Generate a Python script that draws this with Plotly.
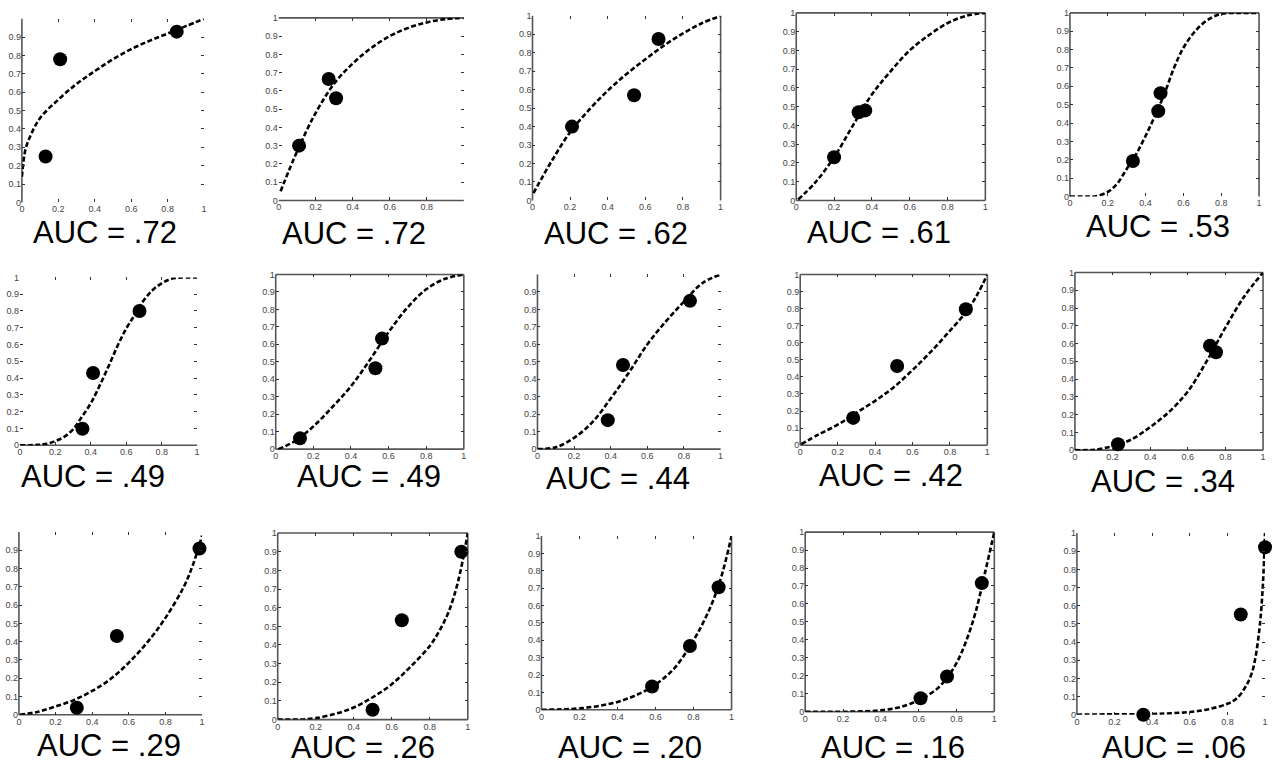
import plotly.graph_objects as go

# ---------------- data ----------------
auc_labels = [".72", ".72", ".62", ".61", ".53",
              ".49", ".49", ".44", ".42", ".34",
              ".29", ".26", ".20", ".16", ".06"]

point_x = [
    [0.13, 0.21, 0.85],
    [0.11, 0.27, 0.31],
    [0.21, 0.54, 0.67],
    [0.20, 0.33, 0.365],
    [0.333, 0.467, 0.479],
    [0.353, 0.413, 0.675],
    [0.129, 0.53, 0.565],
    [0.384, 0.467, 0.833],
    [0.283, 0.518, 0.885],
    [0.229, 0.718, 0.75],
    [0.316, 0.535, 0.986],
    [0.499, 0.653, 0.966],
    [0.582, 0.781, 0.932],
    [0.61, 0.75, 0.934],
    [0.353, 0.871, 1.0],
]
point_y = [
    [0.25, 0.78, 0.93],
    [0.30, 0.665, 0.56],
    [0.40, 0.57, 0.875],
    [0.23, 0.47, 0.48],
    [0.193, 0.465, 0.563],
    [0.098, 0.43, 0.80],
    [0.062, 0.463, 0.633],
    [0.166, 0.482, 0.849],
    [0.16, 0.464, 0.796],
    [0.033, 0.588, 0.551],
    [0.038, 0.431, 0.91],
    [0.053, 0.533, 0.90],
    [0.134, 0.367, 0.705],
    [0.075, 0.196, 0.716],
    [0.0, 0.552, 0.922],
]

curve_x = [
    [0.0, 0.02, 0.05, 0.1, 0.2, 0.3, 0.4, 0.5, 0.6, 0.7, 0.8, 0.9, 1.0],
    [0.01, 0.1, 0.2, 0.3, 0.4, 0.5, 0.6, 0.7, 0.8, 0.9, 1.0],
    [0.005, 0.1, 0.2, 0.3, 0.4, 0.5, 0.6, 0.7, 0.8, 0.9, 1.0],
    [0.01, 0.1, 0.2, 0.3, 0.4, 0.5, 0.6, 0.7, 0.8, 0.9, 1.0],
    [0.0, 0.05, 0.1, 0.13, 0.2, 0.25, 0.3, 0.35, 0.4, 0.45, 0.5, 0.55, 0.6, 0.65, 0.7, 0.75, 0.8, 0.85, 0.9, 1.0],
    [0.0, 0.1, 0.15, 0.2, 0.25, 0.3, 0.35, 0.4, 0.45, 0.5, 0.55, 0.6, 0.65, 0.7, 0.75, 0.8, 0.85, 0.9, 1.0],
    [0.014, 0.1, 0.2, 0.3, 0.4, 0.5, 0.6, 0.7, 0.8, 0.9, 1.0],
    [0.0, 0.1, 0.2, 0.3, 0.4, 0.5, 0.6, 0.7, 0.8, 0.9, 1.0],
    [0.005, 0.1, 0.2, 0.3, 0.4, 0.5, 0.6, 0.7, 0.8, 0.9, 0.95, 1.0],
    [0.0, 0.1, 0.2, 0.3, 0.4, 0.5, 0.6, 0.7, 0.8, 0.9, 1.0],
    [0.005, 0.1, 0.2, 0.3, 0.4, 0.5, 0.6, 0.7, 0.8, 0.9, 0.95, 1.0],
    [0.0, 0.1, 0.15, 0.2, 0.3, 0.4, 0.5, 0.6, 0.7, 0.8, 0.85, 0.9, 0.95, 1.0],
    [0.0, 0.1, 0.2, 0.3, 0.4, 0.5, 0.6, 0.7, 0.8, 0.85, 0.9, 0.95, 1.0],
    [0.0, 0.1, 0.2, 0.3, 0.4, 0.5, 0.6, 0.7, 0.75, 0.8, 0.85, 0.9, 0.95, 1.0],
    [0.0, 0.2, 0.4, 0.5, 0.6, 0.7, 0.8, 0.85, 0.9, 0.93, 0.95, 0.97, 0.98, 0.99, 1.0],
]
curve_y = [
    [0.14, 0.29, 0.37, 0.46, 0.56, 0.645, 0.715, 0.78, 0.835, 0.88, 0.92, 0.96, 1.0],
    [0.05, 0.27, 0.48, 0.64, 0.75, 0.835, 0.90, 0.945, 0.975, 0.993, 1.0],
    [0.04, 0.21, 0.37, 0.49, 0.595, 0.685, 0.765, 0.84, 0.905, 0.96, 1.0],
    [0.005, 0.095, 0.23, 0.40, 0.565, 0.69, 0.80, 0.88, 0.945, 0.985, 1.0],
    [0.0, 0.0, 0.0, 0.0, 0.025, 0.07, 0.15, 0.23, 0.33, 0.44, 0.56, 0.70, 0.81, 0.885, 0.94, 0.975, 0.995, 1.0, 1.0, 1.0],
    [0.0, 0.002, 0.008, 0.025, 0.05, 0.095, 0.17, 0.25, 0.355, 0.47, 0.59, 0.695, 0.78, 0.865, 0.925, 0.965, 0.99, 0.998, 1.0],
    [0.0, 0.045, 0.13, 0.24, 0.36, 0.51, 0.67, 0.81, 0.915, 0.975, 1.0],
    [0.0, 0.011, 0.065, 0.155, 0.29, 0.44, 0.60, 0.73, 0.845, 0.95, 1.0],
    [0.006, 0.064, 0.12, 0.19, 0.26, 0.34, 0.44, 0.55, 0.67, 0.80, 0.89, 1.0],
    [0.0, 0.002, 0.022, 0.06, 0.13, 0.215, 0.33, 0.50, 0.69, 0.865, 1.0],
    [0.0, 0.015, 0.045, 0.08, 0.13, 0.195, 0.285, 0.395, 0.53, 0.70, 0.82, 0.98],
    [0.0, 0.0, 0.002, 0.008, 0.03, 0.065, 0.12, 0.19, 0.285, 0.395, 0.475, 0.58, 0.745, 1.0],
    [0.0, 0.002, 0.008, 0.022, 0.045, 0.085, 0.145, 0.24, 0.40, 0.50, 0.62, 0.78, 1.0],
    [0.0, 0.0, 0.0, 0.002, 0.008, 0.025, 0.065, 0.13, 0.19, 0.27, 0.39, 0.55, 0.77, 1.0],
    [0.0, 0.002, 0.004, 0.008, 0.015, 0.03, 0.06, 0.09, 0.16, 0.23, 0.32, 0.47, 0.58, 0.74, 1.0],
]

x_tick_vals = [0, 0.2, 0.4, 0.6, 0.8, 1]
x_tick_text = ["0", "0.2", "0.4", "0.6", "0.8", "1"]
y_tick_vals = [0, 0.1, 0.2, 0.3, 0.4, 0.5, 0.6, 0.7, 0.8, 0.9, 1]
y_tick_text = ["0", "0.1", "0.2", "0.3", "0.4", "0.5", "0.6", "0.7", "0.8", "0.9", "1"]

# ---------------- layout (pixel geometry) ----------------
W, H = 1273, 772
# plot-area boxes in pixels: x_left, x_right, y_top, y_bottom
boxes = [
    (19, 202, 14, 200), (277, 463, 13, 198), (532, 721, 11, 198), (797, 987, 8, 198), (1072, 1262, 8, 194),
    (17, 195, 276, 446), (274, 463, 273, 450), (537, 721, 273, 450), (801, 989, 273, 446), (1077, 1266, 271, 451),
    (16, 200, 534, 719), (276, 467, 535, 724), (541, 732, 538, 714), (806, 996, 534, 716), (1079, 1268, 535, 719),
]
# label centres in pixels
label_pos = [
    (102, 230), (353, 232), (616, 231), (880, 230), (1160, 224),
    (90, 478), (368, 478), (618, 480), (892, 477), (1165, 483),
    (107, 750), (362, 752), (630, 752), (894, 752), (1177, 752),
]
# visible frame sides
sides = ["L", "TB", "LR", "LRTB", "LRT",
         "B", "LRTB", "LB", "LRTB", "LRTB",
         "LB", "LRTB", "LRB", "LRTB", "L"]
show_y_one = [False, True, True, True, True,
              True, True, False, True, True,
              False, True, True, True, True]
show_x_one = [True, False, True, True, True,
              True, True, True, True, True,
              True, True, True, True, True]

fig = go.Figure()
shapes = []
annotations = []
tick_font = dict(family="Liberation Sans, Arial, sans-serif", size=9, color="#444")
frame_col = "#555"

for i in range(15):
    n = i + 1
    xa = "x" if n == 1 else f"x{n}"
    ya = "y" if n == 1 else f"y{n}"
    xl, xr, yt, yb = boxes[i]
    fig.add_trace(go.Scatter(
        x=curve_x[i], y=curve_y[i], xaxis=xa, yaxis=ya, mode="lines",
        line=dict(color="black", width=2.6, dash="5px,2.5px", shape="spline", smoothing=1.0),
        showlegend=False, hoverinfo="skip", cliponaxis=False))
    fig.add_trace(go.Scatter(
        x=point_x[i], y=point_y[i], xaxis=xa, yaxis=ya, mode="markers",
        marker=dict(color="black", size=14, line=dict(width=0)),
        showlegend=False, cliponaxis=False))

    xt = list(x_tick_text)
    if not show_x_one[i]:
        xt[-1] = ""
    yt_txt = list(y_tick_text)
    if not show_y_one[i]:
        yt_txt[-1] = ""

    xkey = "xaxis" if n == 1 else f"xaxis{n}"
    ykey = "yaxis" if n == 1 else f"yaxis{n}"
    fig.layout[xkey] = dict(
        domain=[xl / W, xr / W], anchor=ya, range=[0, 1], showgrid=False, zeroline=False,
        tickvals=x_tick_vals, ticktext=xt, ticks="inside", ticklen=3, tickwidth=1,
        tickcolor="#333", mirror="ticks", showline=False, tickfont=tick_font, fixedrange=True)
    fig.layout[ykey] = dict(
        domain=[1 - yb / H, 1 - yt / H], anchor=xa, range=[0, 1], showgrid=False, zeroline=False,
        tickvals=y_tick_vals, ticktext=yt_txt, ticks="inside", ticklen=3, tickwidth=1,
        tickcolor="#333", mirror="ticks", showline=False, tickfont=tick_font, fixedrange=True)

    xd = f"{xa} domain"
    yd = f"{ya} domain"
    seg = {"L": (0, 0, 0, 1), "R": (1, 0, 1, 1), "T": (0, 1, 1, 1), "B": (0, 0, 1, 0)}
    for s in sides[i]:
        x0, y0, x1, y1 = seg[s]
        shapes.append(dict(type="line", xref=xd, yref=yd, x0=x0, y0=y0, x1=x1, y1=y1,
                           line=dict(color=frame_col, width=1.6), layer="below"))

    cx, cy = label_pos[i]
    annotations.append(dict(
        text="AUC = " + auc_labels[i], x=cx / W, y=1 - cy / H, xref="paper", yref="paper",
        xanchor="center", yanchor="middle", showarrow=False,
        font=dict(family="Liberation Sans, Arial, sans-serif", size=31, color="black")))

fig.update_layout(
    width=W, height=H, margin=dict(l=0, r=0, t=0, b=0),
    paper_bgcolor="white", plot_bgcolor="white",
    shapes=shapes, annotations=annotations, showlegend=False)

fig.write_html("out.html", config={"displayModeBar": False})
